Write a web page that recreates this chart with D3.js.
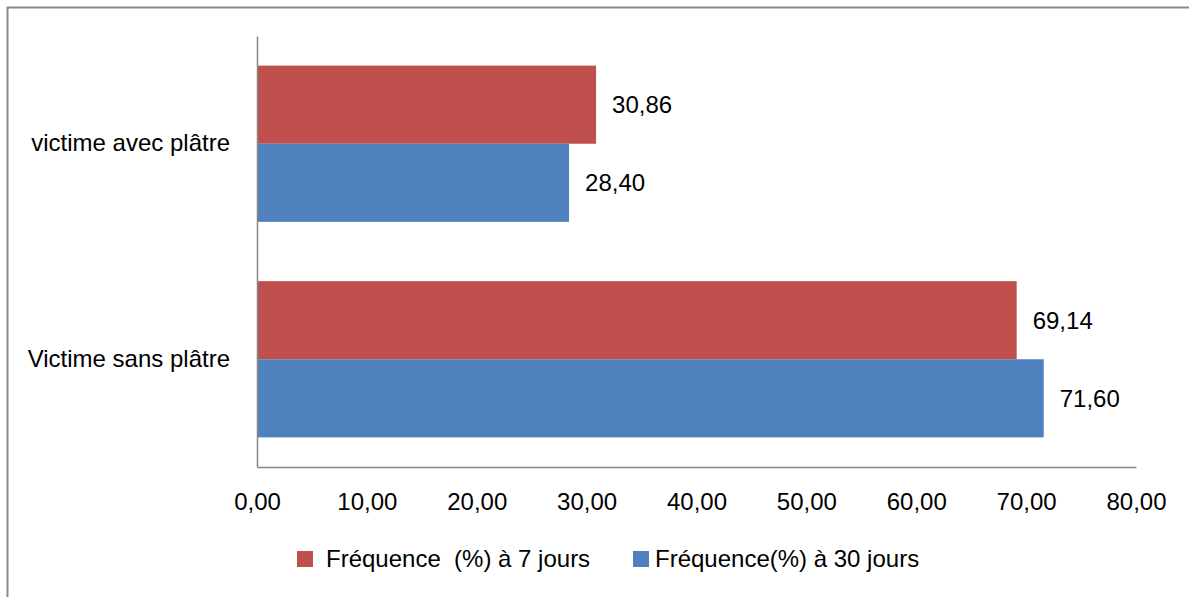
<!DOCTYPE html>
<html><head><meta charset="utf-8">
<script src="https://cdn.jsdelivr.net/npm/d3@7"></script>
<style>body{margin:0;background:#fff}svg{display:block}text{font-family:"Liberation Sans",Arial,sans-serif;fill:#000}</style>
</head><body><svg id="c" width="1189" height="597"></svg>
<script>
const categories = ["victime avec plâtre", "Victime sans plâtre"];
const seriesNames = ["Fréquence  (%) à 7 jours", "Fréquence(%) à 30 jours"];
const series7 = [30.86, 69.14];
const series30 = [28.40, 71.60];
const tickValues = [0, 10, 20, 30, 40, 50, 60, 70, 80];
const colors = ["#C0504D", "#4F81BD"];

const svg = d3.select("#c");
const fmt = v => d3.format(".2f")(v).replace(".", ",");
const fs = 24;

// outer border
svg.append("rect").attr("x", 7.5).attr("y", 7.5).attr("width", 1200).attr("height", 700)
  .attr("fill", "none").attr("stroke", "#8a8a8a").attr("stroke-width", 2);

const x = d3.scaleLinear().domain([0, 80]).range([257, 1136]);
const y = d3.scaleBand().domain(categories).range([36, 467]).paddingInner(0.275).paddingOuter(0.1375);
const ySub = d3.scaleBand().domain([0, 1]).range([0, y.bandwidth()]);

const data = [];
categories.forEach((c, i) => {
  data.push({cat: c, s: 0, v: series7[i]});
  data.push({cat: c, s: 1, v: series30[i]});
});

svg.selectAll("rect.bar").data(data).enter().append("rect").attr("class", "bar")
  .attr("x", x(0)).attr("y", d => y(d.cat) + ySub(d.s))
  .attr("width", d => x(d.v) - x(0)).attr("height", ySub.bandwidth())
  .attr("fill", d => colors[d.s]);

svg.selectAll("text.lbl").data(data).enter().append("text").attr("class", "lbl")
  .attr("x", d => x(d.v) + 16).attr("y", d => y(d.cat) + ySub(d.s) + ySub.bandwidth() / 2)
  .attr("dy", "0.35em").attr("font-size", fs).text(d => fmt(d.v));

// axes
const xAxis = d3.axisBottom(x).tickValues(tickValues).tickFormat(fmt).tickSize(0).tickPadding(26);
const gx = svg.append("g").attr("transform", "translate(0,467)").call(xAxis);
gx.select(".domain").attr("stroke", "#868686").attr("stroke-width", 1.5);
gx.selectAll("text").attr("font-size", fs).attr("font-family", "Liberation Sans");

const yAxis = d3.axisLeft(y).tickSize(0).tickPadding(27);
const gy = svg.append("g").attr("transform", "translate(257,0)").call(yAxis);
gy.select(".domain").attr("stroke", "#868686").attr("stroke-width", 1.5);
gy.selectAll("text").attr("font-size", fs).attr("font-family", "Liberation Sans");

// legend
const legX = [297, 633];
seriesNames.forEach((n, i) => {
  svg.append("rect").attr("x", legX[i]).attr("y", 551).attr("width", 16).attr("height", 16).attr("fill", colors[i]);
  svg.append("text").attr("x", legX[i] + (i === 0 ? 29 : 22)).attr("y", 559).attr("dy", "0.35em")
    .attr("font-size", fs).attr("xml:space", "preserve").style("white-space", "pre").text(n);
});
</script></body></html>
